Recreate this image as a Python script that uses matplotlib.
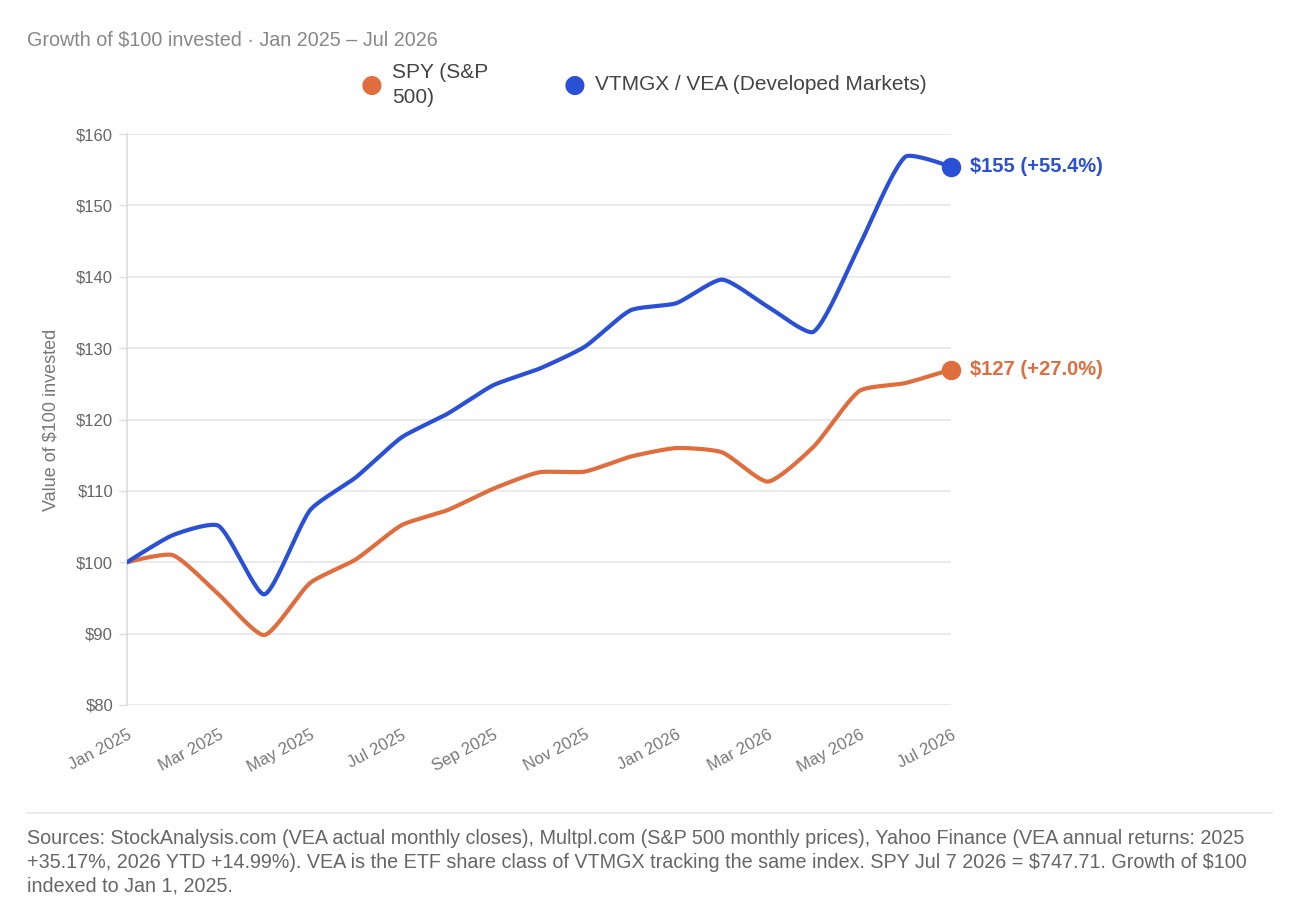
import numpy as np
import matplotlib
matplotlib.use("Agg")
import matplotlib.pyplot as plt

plt.rcParams['font.family'] = ['Liberation Sans', 'DejaVu Sans']

months = ["Jan 2025", "Feb 2025", "Mar 2025", "Apr 2025", "May 2025", "Jun 2025",
          "Jul 2025", "Aug 2025", "Sep 2025", "Oct 2025", "Nov 2025", "Dec 2025",
          "Jan 2026", "Feb 2026", "Mar 2026", "Apr 2026", "May 2026", "Jun 2026",
          "Jul 2026"]
spy = [100.0, 101.0, 95.5, 89.8, 97.1, 100.4, 105.2, 107.3, 110.3, 112.6,
       112.7, 114.8, 116.0, 115.4, 111.3, 116.2, 124.0, 125.1, 127.0]
vea = [100.0, 103.8, 105.1, 95.5, 107.3, 111.9, 117.5, 120.8, 124.8, 127.1,
       130.2, 135.3, 136.3, 139.6, 135.8, 132.3, 144.4, 156.8, 155.4]
series_names = ["SPY (S&P\n500)", "VTMGX / VEA (Developed Markets)"]
end_labels = ["$127 (+27.0%)", "$155 (+55.4%)"]
tick_labels = months[::2]
yticks = [80, 90, 100, 110, 120, 130, 140, 150, 160]

ORANGE = "#E06D3D"
BLUE = "#2A50D6"

# axes geometry in pixels (for Chart.js-like spline smoothing)
AX_L, AX_R, AX_T, AX_B = 127, 951, 134, 705
PX_X = (AX_R - AX_L) / (len(months) - 1)
PX_Y = (AX_B - AX_T) / 80.0


def spline(xv, yv, tension=0.2, n=24):
    P = np.column_stack([np.asarray(xv, float) * PX_X, np.asarray(yv, float) * PX_Y])
    N = len(P)
    cp_prev = P.copy(); cp_next = P.copy()
    for i in range(1, N - 1):
        d01 = np.linalg.norm(P[i] - P[i - 1]); d12 = np.linalg.norm(P[i + 1] - P[i])
        s01 = d01 / (d01 + d12); s12 = d12 / (d01 + d12)
        v = P[i + 1] - P[i - 1]
        cp_prev[i] = P[i] - tension * s01 * v
        cp_next[i] = P[i] + tension * s12 * v
    out = []
    t = np.linspace(0, 1, n, endpoint=False)[:, None]
    for i in range(N - 1):
        a, b, c, d = P[i], cp_next[i], cp_prev[i + 1], P[i + 1]
        seg = (1 - t) ** 3 * a + 3 * (1 - t) ** 2 * t * b + 3 * (1 - t) * t ** 2 * c + t ** 3 * d
        out.append(seg)
    out.append(P[-1:])
    out = np.vstack(out)
    return out[:, 0] / PX_X, out[:, 1] / PX_Y


fig = plt.figure(figsize=(13.06, 9.18), dpi=100)
ax = fig.add_axes([AX_L / 1306, 1 - AX_B / 918, (AX_R - AX_L) / 1306, (AX_B - AX_T) / 918])

x = np.arange(len(months))
for vals, col, lab in [(spy, ORANGE, end_labels[0]), (vea, BLUE, end_labels[1])]:
    xs, ys = spline(x, vals)
    ax.plot(xs, ys, color=col, lw=3.0, solid_capstyle="round", solid_joinstyle="round", zorder=3)
    ax.plot([x[-1]], [vals[-1]], "o", color=col, ms=13, zorder=4, clip_on=False)
    ax.annotate(lab, (x[-1], vals[-1]), xytext=(14, 0), textcoords="offset points",
                color=col, fontsize=14.5, fontweight="bold", va="center", ha="left",
                annotation_clip=False)

ax.set_xlim(0, len(months) - 1)
ax.set_ylim(80, 160)
ax.set_yticks(yticks)
ax.set_yticklabels([f"${v}" for v in yticks])
ax.set_xticks(x[::2])
ax.set_xticklabels(tick_labels, rotation=28, ha="right", va="top", rotation_mode="anchor")
ax.tick_params(axis="x", length=0, pad=16, labelsize=12, labelcolor="#777777")
ax.tick_params(axis="y", length=6, width=1, color="#dddddd", pad=4, labelsize=12,
               labelcolor="#666666")
ax.grid(axis="y", color="#e6e6e6", lw=1.2)
ax.set_axisbelow(True)
for s in ["top", "right", "bottom"]:
    ax.spines[s].set_visible(False)
ax.spines["left"].set_color("#dddddd")
ax.spines["left"].set_linewidth(1.2)
ax.set_ylabel("Value of $100 invested", fontsize=13, color="#777777", labelpad=12)

fig.text(27 / 1306, 1 - 40 / 918, "Growth of \\$100 invested · Jan 2025 – Jul 2026",
         fontsize=14.2, color="#888888", va="center", ha="left")

# legend
fig.text(372 / 1306, 1 - 85 / 918, "●", fontsize=18, color=ORANGE, va="center", ha="center",
         family="DejaVu Sans")
fig.text(392 / 1306, 1 - 85 / 918, series_names[0], fontsize=15, color="#444444",
         va="center", ha="left", linespacing=1.45)
fig.text(575 / 1306, 1 - 85 / 918, "●", fontsize=18, color=BLUE, va="center", ha="center",
         family="DejaVu Sans")
fig.text(595 / 1306, 1 - 85 / 918, series_names[1], fontsize=15, color="#444444",
         va="center", ha="left")

fig.add_artist(plt.Line2D([27 / 1306, 1272 / 1306], [1 - 813 / 918, 1 - 813 / 918],
                          color="#e6e6e6", lw=1.2))
footer = ("Sources: StockAnalysis.com (VEA actual monthly closes), Multpl.com (S&P 500 monthly prices), Yahoo Finance (VEA annual returns: 2025\n"
          "+35.17%, 2026 YTD +14.99%). VEA is the ETF share class of VTMGX tracking the same index. SPY Jul 7 2026 = \\$747.71. Growth of \\$100\n"
          "indexed to Jan 1, 2025.")
fig.text(27 / 1306, 1 - 829 / 918, footer, fontsize=14.2, color="#666666", va="top", ha="left",
         linespacing=1.3)

fig.savefig("out.png", dpi=100)
